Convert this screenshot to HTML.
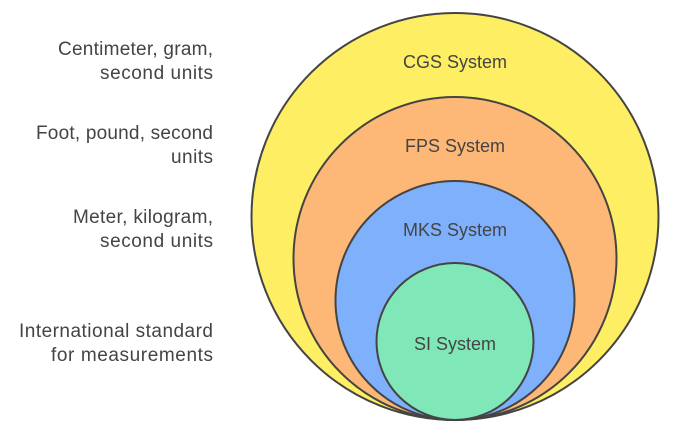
<!DOCTYPE html>
<html><head><style>body{margin:0;background:#fff}</style></head><body>
<svg width="673" height="435" xmlns="http://www.w3.org/2000/svg" font-family="Liberation Sans, sans-serif">
<rect width="673" height="435" fill="#fff"/>
<g stroke="#444" stroke-width="2">
<circle cx="455" cy="216.5" r="203.5" fill="#fdee63"/>
<circle cx="455" cy="258.5" r="161.5" fill="#fdb877"/>
<circle cx="455" cy="300.5" r="119.5" fill="#7eb0fc"/>
<circle cx="455" cy="341.5" r="78.5" fill="#80e8b8"/>
</g>
<g fill="#444" font-size="18" text-anchor="middle">
<text x="455" y="68">CGS System</text>
<text x="455" y="152">FPS System</text>
<text x="455" y="236">MKS System</text>
<text x="455" y="350">SI System</text>
</g>
<g fill="#444" font-size="19" text-anchor="end">
<text x="213" y="55" textLength="155">Centimeter, gram,</text>
<text x="213" y="79" textLength="113">second units</text>
<text x="213" y="139" textLength="177">Foot, pound, second</text>
<text x="213" y="163" textLength="42">units</text>
<text x="213" y="223" textLength="140">Meter, kilogram,</text>
<text x="213" y="247" textLength="113">second units</text>
<text x="213" y="337" textLength="194">International standard</text>
<text x="213" y="361" textLength="162">for measurements</text>
</g>
</svg>
</body></html>
